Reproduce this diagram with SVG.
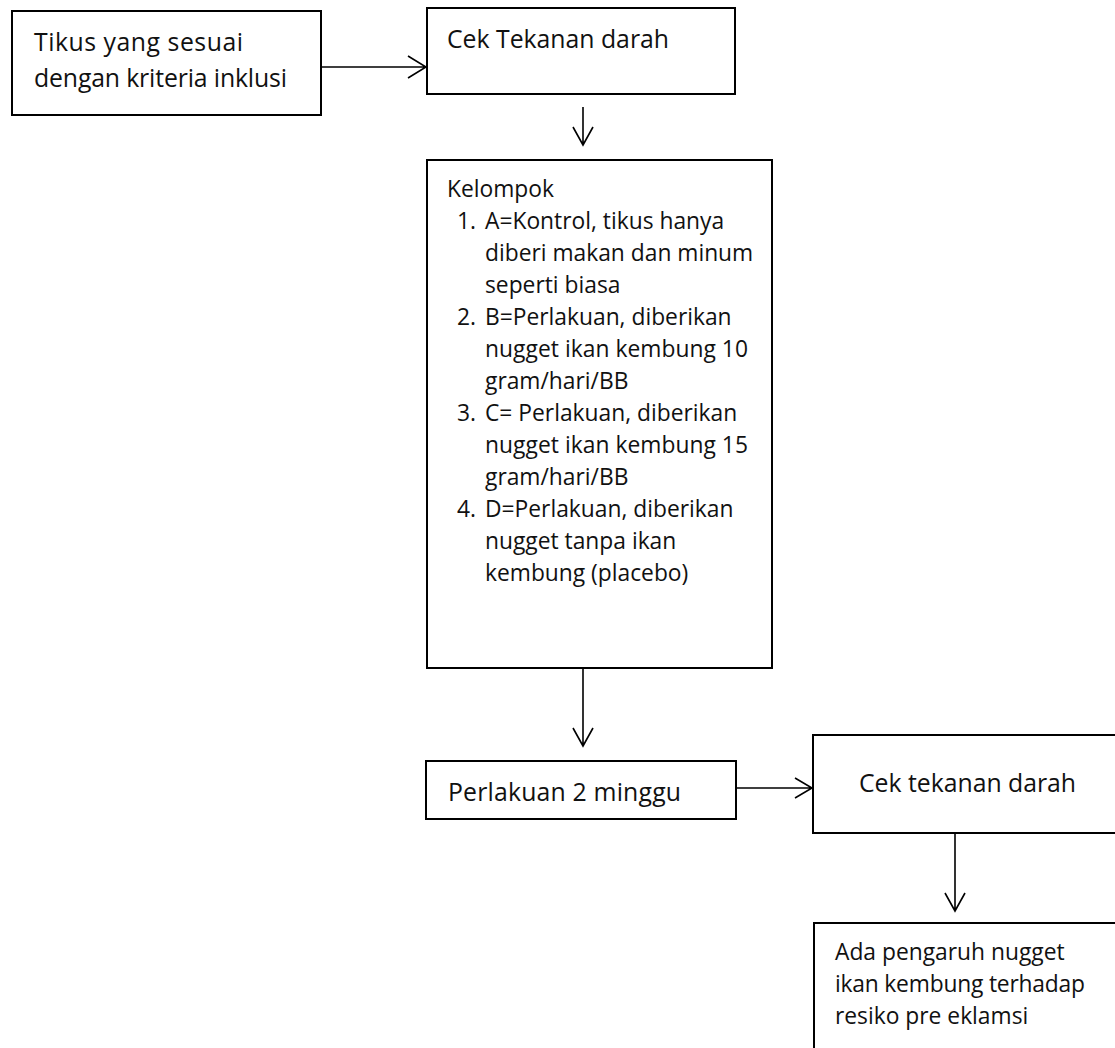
<svg xmlns="http://www.w3.org/2000/svg" width="1115" height="1048" viewBox="0 0 1115 1048">
<style>
.box{fill:#fff;stroke:#000;stroke-width:2}
.t{font-family:"Open Sans","Noto Sans","Liberation Sans",sans-serif;font-size:22.8px;fill:#111}
.l{font-size:24.8px}
.c{fill:none;stroke:#000;stroke-width:1.6}
</style>
<rect width="1115" height="1048" fill="#fff"/>
<g id="n1">
<rect class="box" x="12" y="11" width="309" height="104"/>
<text class="t l" x="34" y="51" textLength="209">Tikus yang sesuai</text>
<text class="t l" x="34" y="87" textLength="253">dengan kriteria inklusi</text>
</g>
<g id="n2">
<rect class="box" x="427" y="8" width="308" height="86"/>
<text class="t l" x="447" y="48" textLength="222">Cek Tekanan darah</text>
</g>
<g id="n3">
<rect class="box" x="427" y="160" width="345" height="508"/>
<text class="t" x="447" y="197">Kelompok</text>
<text class="t" x="457" y="229">1.</text><text class="t" x="485" y="229">A=Kontrol, tikus hanya</text>
<text class="t" x="485" y="261">diberi makan dan minum</text>
<text class="t" x="485" y="293">seperti biasa</text>
<text class="t" x="457" y="325">2.</text><text class="t" x="485" y="325">B=Perlakuan, diberikan</text>
<text class="t" x="485" y="357" textLength="263">nugget ikan kembung 10</text>
<text class="t" x="485" y="389">gram/hari/BB</text>
<text class="t" x="457" y="421">3.</text><text class="t" x="485" y="421">C= Perlakuan, diberikan</text>
<text class="t" x="485" y="453" textLength="263">nugget ikan kembung 15</text>
<text class="t" x="485" y="485">gram/hari/BB</text>
<text class="t" x="457" y="517">4.</text><text class="t" x="485" y="517">D=Perlakuan, diberikan</text>
<text class="t" x="485" y="549">nugget tanpa ikan</text>
<text class="t" x="485" y="581">kembung (placebo)</text>
</g>
<g id="n4">
<rect class="box" x="426" y="761" width="310" height="58"/>
<text class="t l" x="448" y="801" textLength="233">Perlakuan 2 minggu</text>
</g>
<g id="n5">
<rect class="box" x="813" y="735" width="310" height="98"/>
<text class="t l" x="859" y="792" textLength="217">Cek tekanan darah</text>
</g>
<g id="n6">
<rect class="box" x="814" y="923" width="310" height="140"/>
<text class="t" x="835" y="960">Ada pengaruh nugget</text>
<text class="t" x="835" y="992" textLength="250">ikan kembung terhadap</text>
<text class="t" x="835" y="1024">resiko pre eklamsi</text>
</g>
<g id="connectors">
<path class="c" d="M321 67H426M408 56L426 67L408 78"/>
<path class="c" d="M583 107V145M573 127L583 145L593 127"/>
<path class="c" d="M583 668V746M573 728L583 746L593 728"/>
<path class="c" d="M736 788H812M795 778L812 788L795 798"/>
<path class="c" d="M955 833V911M945 893L955 911L965 893"/>
</g>
</svg>
